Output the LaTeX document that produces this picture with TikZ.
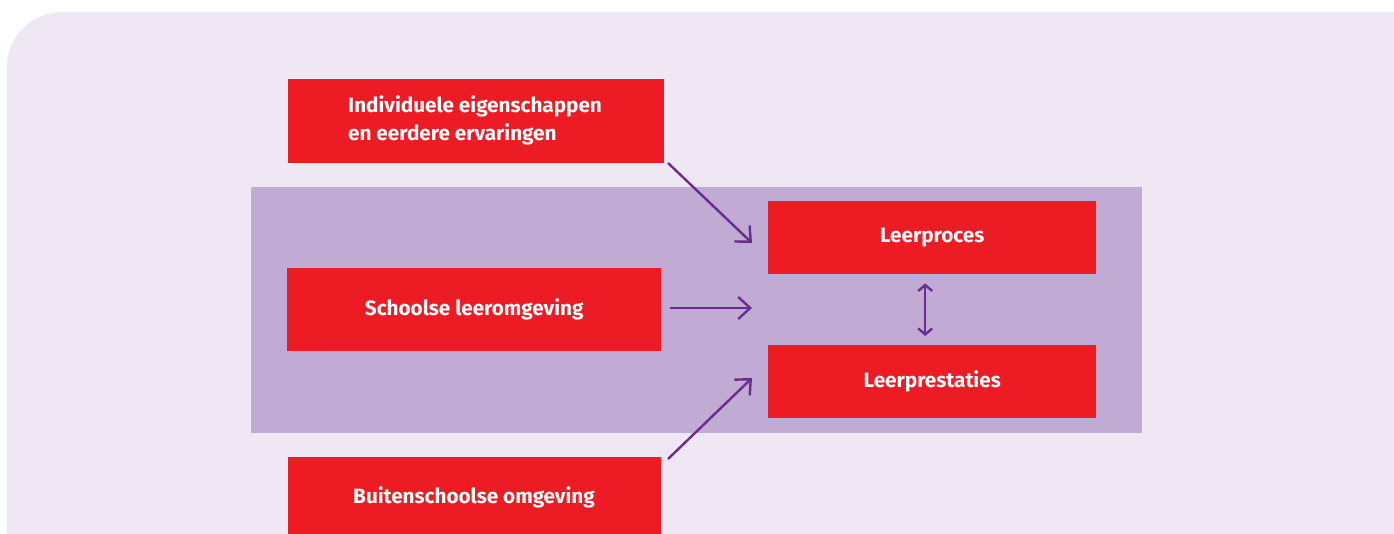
\documentclass[tikz,border=0pt]{standalone}
\usepackage{fontspec}
\setmainfont{Fira Sans}
\usetikzlibrary{arrows.meta}
\definecolor{panel}{HTML}{EFE8F4}
\definecolor{band}{HTML}{C1AAD3}
\definecolor{boxred}{HTML}{ED1C24}
\definecolor{arrowpurple}{HTML}{6A2C91}
\tikzset{
  boxfont/.style={font=\fontsize{20.7}{28}\selectfont\bfseries},
  redbox/.style={fill=boxred, draw=none, inner sep=0pt, text=white, boxfont},
  boxtext/.style={text=white, inner sep=0pt, boxfont},
  link/.style={draw=arrowpurple, line width=2.4pt,
    -{Straight Barb[length=12pt,width=22pt,line width=2.4pt]}},
  bilink/.style={draw=arrowpurple, line width=2.4pt,
    {Straight Barb[length=6pt,width=14pt,line width=2.4pt]}-{Straight Barb[length=6pt,width=14pt,line width=2.4pt]}},
}
\begin{document}
\begin{tikzpicture}[x=1pt,y=-1pt]
\useasboundingbox (0,0) rectangle (1394,533);
\begin{scope}
  \clip (0,0) rectangle (1394,533);
  % light panel with a rounded upper-left corner
  \fill[panel, rounded corners=55pt] (7,600) -- (7,12) -- (1460,12) -- (1460,600) -- cycle;
  % central band
  \fill[band] (251,187) rectangle (1142,433);
  % boxes
  \node[redbox, minimum width=376pt, minimum height=84pt, anchor=north west] (ind) at (288,79) {};
  \node[boxtext, anchor=west, align=left] (indtext) at (348,120)
    {Individuele eigenschappen\\en eerdere ervaringen};
  \node[redbox, minimum width=374pt, minimum height=83pt, anchor=north west] (school) at (287,268) {Schoolse leeromgeving};
  \node[redbox, minimum width=373pt, minimum height=80pt, anchor=north west] (buiten) at (288,457) {};
  \node[boxtext] (buitentext) at (474,497) {Buitenschoolse omgeving};
  \node[redbox, minimum width=328pt, minimum height=73pt, anchor=north west] (proces) at (768,201) {Leerproces};
  \node[redbox, minimum width=328pt, minimum height=73pt, anchor=north west] (prest) at (768,345) {Leerprestaties};
  % connectors
  \coordinate (a1s) at (668,163);
  \coordinate (a1e) at (752,243);
  \coordinate (a2s) at (670,308);
  \coordinate (a2e) at (752,308);
  \coordinate (a3s) at (668,459);
  \coordinate (a3e) at (752,378);
  \draw[link] (a1s) -- (a1e);
  \draw[link] (a2s) -- (a2e);
  \draw[link] (a3s) -- (a3e);
  \draw[bilink] ([xshift=-7pt,yshift=-9pt]proces.south) -- ([xshift=-7pt,yshift=9pt]prest.north);
\end{scope}
\end{tikzpicture}
\end{document}
